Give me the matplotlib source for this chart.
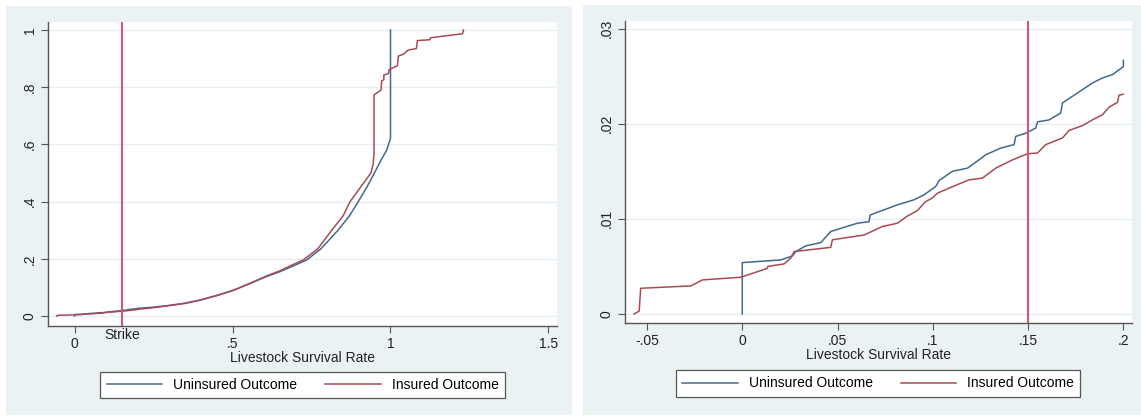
import matplotlib.pyplot as plt
import matplotlib.transforms as mtransforms
from matplotlib.patches import Rectangle
plt.rcParams["font.family"] = ["Liberation Sans", "DejaVu Sans"]

uninsured_x = [0.0, 0.0, 0.0202, 0.0263, 0.0281, 0.0333, 0.0412, 0.0464, 0.0517, 0.0604,
               0.0665, 0.0671, 0.0744, 0.0814, 0.0901, 0.0954, 0.1015, 0.1033, 0.1103,
               0.1182, 0.1242, 0.1278, 0.1356, 0.1426, 0.1435, 0.1487, 0.154, 0.1549,
               0.161, 0.1671, 0.168, 0.1732, 0.1785, 0.1837, 0.189, 0.1942, 0.2, 0.2,
               0.25, 0.292, 0.35, 0.397, 0.45, 0.503, 0.55, 0.608, 0.65, 0.682, 0.735,
               0.78, 0.834, 0.87, 0.898, 0.925, 0.949, 0.97, 0.988, 1.0, 1.0]
uninsured_F = [0.0, 0.0054, 0.00568, 0.0061, 0.00656, 0.00716, 0.0075, 0.00867, 0.0090,
               0.00954, 0.0097, 0.0104, 0.01095, 0.01147, 0.0120, 0.01253, 0.0134, 0.01403,
               0.0150, 0.01533, 0.0162, 0.01674, 0.01744, 0.0178, 0.01867, 0.0190, 0.01955,
               0.0202, 0.0204, 0.02113, 0.02218, 0.02288, 0.02358, 0.02428, 0.02481,
               0.02516, 0.0260, 0.02667,
               0.031, 0.036, 0.045, 0.056, 0.072, 0.090, 0.111, 0.138, 0.155, 0.170, 0.196,
               0.235, 0.300, 0.350, 0.400, 0.450, 0.500, 0.545, 0.580, 0.621, 1.0]

insured_x = [-0.0568, -0.0541, -0.0533, -0.027, -0.0209, -0.0008, 0.0132, 0.0134, 0.0219,
             0.0254, 0.0272, 0.0464, 0.0473, 0.0639, 0.0736, 0.0814, 0.0867, 0.0919,
             0.0963, 0.0998, 0.1024, 0.1085, 0.119, 0.126, 0.133, 0.1418, 0.1496, 0.1549,
             0.1592, 0.168, 0.1715, 0.1785, 0.1837, 0.189, 0.1925, 0.1969, 0.1977, 0.1998,
             0.25, 0.292, 0.35, 0.397, 0.45, 0.503, 0.55, 0.608, 0.65, 0.682, 0.724,
             0.77, 0.814, 0.85, 0.872, 0.905, 0.938, 0.945, 0.948, 0.948, 0.970, 0.972,
             0.979, 0.979, 0.993, 0.996, 1.022, 1.025, 1.04, 1.056, 1.082, 1.085, 1.125,
             1.127, 1.228, 1.231]
insured_F = [0.0, 0.0003, 0.0027, 0.00295, 0.00358, 0.00386, 0.0048, 0.0050, 0.00526,
             0.00586, 0.00656, 0.0070, 0.0078, 0.0083, 0.0092, 0.00954, 0.0103, 0.01088,
             0.01182, 0.0122, 0.0127, 0.01323, 0.0141, 0.01428, 0.01533, 0.0162, 0.01684,
             0.01692, 0.0178, 0.0185, 0.0193, 0.0198, 0.0204, 0.02095, 0.02175, 0.02225,
             0.0230, 0.0231,
             0.029, 0.035, 0.044, 0.055, 0.071, 0.090, 0.112, 0.140, 0.158, 0.175, 0.196,
             0.235, 0.300, 0.350, 0.400, 0.450, 0.500, 0.530, 0.569, 0.773, 0.790, 0.822,
             0.826, 0.843, 0.847, 0.862, 0.875, 0.909, 0.915, 0.930, 0.935, 0.963, 0.966,
             0.973, 0.987, 1.0]

strike = 0.15
zoom_max = 0.2

left_xticks = [0, 0.5, 1, 1.5]
left_xlabels = ["0", ".5", "1", "1.5"]
left_yticks = [0, 0.2, 0.4, 0.6, 0.8, 1]
left_ylabels = ["0", ".2", ".4", ".6", ".8", "1"]
right_xticks = [-0.05, 0, 0.05, 0.1, 0.15, 0.2]
right_xlabels = ["-.05", "0", ".05", ".1", ".15", ".2"]
right_yticks = [0, 0.01, 0.02, 0.03]
right_ylabels = ["0", ".01", ".02", ".03"]

BG = "#EAF2F3"
AXC = "#555555"
BLUE = "#41698F"
RED = "#AA4A53"
STRIKE_C = "#D85573"
FS = 10
W, H = 1141, 416

fig = plt.figure(figsize=(W / 100, H / 100), dpi=100, facecolor="white")
fig.patches.append(Rectangle((6 / W, 1 / H), 566 / W, 409 / H, transform=fig.transFigure,
                             facecolor=BG, edgecolor="none", zorder=-5))
fig.patches.append(Rectangle((583 / W, 1 / H), 558 / W, 410 / H, transform=fig.transFigure,
                             facecolor=BG, edgecolor="none", zorder=-5))


def style(ax, xt, xl, yt, yl):
    ax.set_facecolor("white")
    for s in ["top", "right"]:
        ax.spines[s].set_visible(False)
    for s in ["left", "bottom"]:
        ax.spines[s].set_color(AXC)
        ax.spines[s].set_linewidth(1.0)
    ax.set_xticks(xt, xl)
    ax.set_yticks(yt, yl)
    ax.tick_params(colors=AXC, labelcolor="#222222", labelsize=FS, length=5, width=0.8, pad=3)
    ax.tick_params(axis="y", labelrotation=90)
    for lab in ax.get_yticklabels():
        lab.set_va("center")
    ax.grid(axis="y", color="#E6EEF0", linewidth=1.0)
    ax.set_axisbelow(True)
    ax.set_xlabel("Livestock Survival Rate", fontsize=FS, labelpad=0, color="#222222")


def add_legend(ax, y):
    leg = ax.legend(loc="upper center", bbox_to_anchor=(0.5, y), ncol=2, fontsize=FS,
                    handlelength=4.0, handletextpad=0.8, columnspacing=2.0,
                    frameon=True, fancybox=False, edgecolor=AXC, framealpha=1,
                    borderpad=0.45, borderaxespad=0)
    leg.get_frame().set_linewidth(0.9)


# left: full distribution
ax1 = fig.add_axes([48 / W, 1 - 326 / H, 509 / W, 304 / H])
ax1.plot(uninsured_x, uninsured_F, color=BLUE, lw=1.1, label="Uninsured Outcome")
ax1.plot(insured_x, insured_F, color=RED, lw=1.1, label="Insured Outcome")
ax1.axvline(strike, color=STRIKE_C, lw=1.5)
ax1.set_xlim(-0.084, 1.527)
ax1.set_ylim(-0.035, 1.028)
style(ax1, left_xticks, left_xlabels, left_yticks, left_ylabels)
trans = mtransforms.blended_transform_factory(ax1.transData, ax1.transAxes)
ax1.text(strike, -0.028, "Strike", transform=trans, ha="center", va="center",
         fontsize=FS, color="#222222")
add_legend(ax1, -0.151)

# right: zoom on lower tail
ux = [x for x in uninsured_x if x <= zoom_max]
uF = uninsured_F[:len(ux)]
ix = [x for x in insured_x if x <= zoom_max]
iF = insured_F[:len(ix)]
ax2 = fig.add_axes([624.5 / W, 1 - 323 / H, 507.5 / W, 302 / H])
ax2.plot(ux, uF, color=BLUE, lw=1.1, label="Uninsured Outcome")
ax2.plot(ix, iF, color=RED, lw=1.1, label="Insured Outcome")
ax2.axvline(strike, color=STRIKE_C, lw=1.5)
ax2.set_xlim(-0.0618, 0.2045)
ax2.set_ylim(-0.00095, 0.0308)
style(ax2, right_xticks, right_xlabels, right_yticks, right_ylabels)
add_legend(ax2, -0.156)

fig.savefig("out.png", dpi=100, facecolor="white")
